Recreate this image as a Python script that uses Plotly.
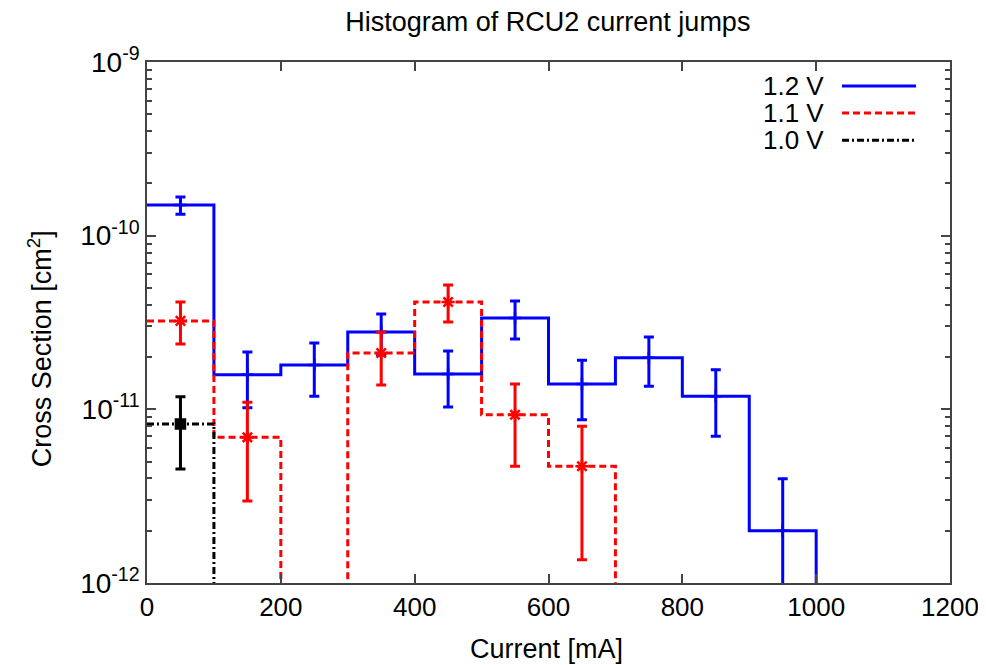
import plotly.graph_objects as go

# ---- data ----
bin_left = [0, 100, 200, 300, 400, 500, 600, 700, 800, 900]
bin_width = 100
floor_val = 1e-13  # "empty bin" level, below axis bottom

v12 = [1.50e-10, 1.58e-11, 1.80e-11, 2.79e-11, 1.60e-11, 3.36e-11, 1.40e-11, 1.98e-11, 1.19e-11, 2.0e-12]
v12_hi = [1.67e-10, 2.14e-11, 2.41e-11, 3.54e-11, 2.17e-11, 4.21e-11, 1.92e-11, 2.61e-11, 1.69e-11, 3.98e-12]
v12_lo = [1.33e-10, 1.02e-11, 1.19e-11, 2.05e-11, 1.03e-11, 2.54e-11, 8.7e-12, 1.36e-11, 7.0e-12, 2.0e-13]

v11 = [3.23e-11, 6.9e-12, None, 2.11e-11, 4.15e-11, 9.3e-12, 4.7e-12]
v11_hi = [4.15e-11, 1.10e-11, None, 2.79e-11, 5.2e-11, 1.40e-11, 8.0e-12]
v11_lo = [2.38e-11, 2.97e-12, None, 1.38e-11, 3.18e-11, 4.7e-12, 1.36e-12]

v10 = [8.24e-12]
v10_hi = [1.18e-11]
v10_lo = [4.54e-12]

x_ticks = [0, 200, 400, 600, 800, 1000, 1200]
y_ticks = [1e-12, 1e-11, 1e-10, 1e-9]
y_ticktext = ["10<sup>-12</sup>", "10<sup>-11</sup>", "10<sup>-10</sup>", "10<sup>-9</sup>"]

series = [
    ("1.2 V", v12, v12_hi, v12_lo, "#0000ff", "solid", "cross-thin-open", 9),
    ("1.1 V", v11, v11_hi, v11_lo, "#ff0000", "7px,4px", "asterisk-open", 11),
    ("1.0 V", v10, v10_hi, v10_lo, "#000000", "7px,3px,2px,3px", "square", 9),
]

FONT = "Liberation Sans, Arial, sans-serif"
fig = go.Figure()

for name, vals, hi, lo, color, dash, sym, msize in series:
    n = len(vals)
    xs = bin_left[:n] + [bin_left[n - 1] + bin_width]
    ys = [v if v is not None else floor_val for v in vals] + [floor_val]
    fig.add_trace(go.Scatter(x=xs, y=ys, mode="lines", line_shape="hv",
                             line=dict(color=color, width=3, dash=dash),
                             showlegend=False, hoverinfo="skip"))
    cx, cy, ep, em = [], [], [], []
    for i, v in enumerate(vals):
        if v is None:
            continue
        cx.append(bin_left[i] + bin_width / 2)
        cy.append(v)
        ep.append(hi[i] - v)
        em.append(v - lo[i])
    fig.add_trace(go.Scatter(x=cx, y=cy, mode="markers",
                             marker=dict(symbol=sym, size=msize, color=color,
                                         line=dict(color=color, width=2.5)),
                             error_y=dict(type="data", array=ep, arrayminus=em, color=color,
                                          thickness=3, width=5, symmetric=False),
                             showlegend=False, name=name))

# custom gnuplot-style legend (text left, sample right)
legend_rows = [0.954, 0.902, 0.850]
for (name, _, _, _, color, dash, _, _), yy in zip(series, legend_rows):
    fig.add_annotation(x=0.846, y=yy, xref="paper", yref="paper", text=name,
                       showarrow=False, xanchor="right", yanchor="middle",
                       font=dict(size=26, color="black", family=FONT))
    fig.add_shape(type="line", xref="paper", yref="paper", x0=0.8655, x1=0.9577, y0=yy, y1=yy,
                  line=dict(color=color, width=3, dash=dash))

# axis titles as annotations for exact placement
fig.add_annotation(x=0.498, y=-0.127, xref="paper", yref="paper", text="Current [mA]",
                   showarrow=False, xanchor="center", yanchor="middle",
                   font=dict(size=27, color="black", family=FONT))
fig.add_annotation(x=-0.133, y=0.449, xref="paper", yref="paper", text="Cross Section [cm<sup>2</sup>]",
                   showarrow=False, xanchor="center", yanchor="middle", textangle=-90,
                   font=dict(size=27, color="black", family=FONT))

axis_common = dict(showline=True, linecolor="#444444", linewidth=1.5, mirror="ticks",
                   ticks="inside", ticklen=9, tickwidth=1.5, tickcolor="#444444",
                   showgrid=False, zeroline=False)

fig.update_layout(
    width=986, height=665,
    margin=dict(l=139, r=44, t=54, b=90),
    plot_bgcolor="white", paper_bgcolor="white",
    title=dict(text="Histogram of RCU2 current jumps", x=0.5475, xanchor="center", y=0.979,
               yanchor="middle", font=dict(size=27, family=FONT, color="black")),
    xaxis=dict(range=[0, 1200], tickvals=x_ticks, ticktext=[str(t) for t in x_ticks],
               tickfont=dict(size=26, family=FONT, color="black"),
               **axis_common),
    yaxis=dict(type="log", range=[-12, -9], tickvals=y_ticks, ticktext=y_ticktext,
               tickfont=dict(size=28, family=FONT, color="black"),
               minor=dict(ticks="inside", ticklen=5, tickcolor="#444444", dtick="D1", showgrid=False),
               **axis_common),
    showlegend=False,
)

fig.write_html("out.html")
